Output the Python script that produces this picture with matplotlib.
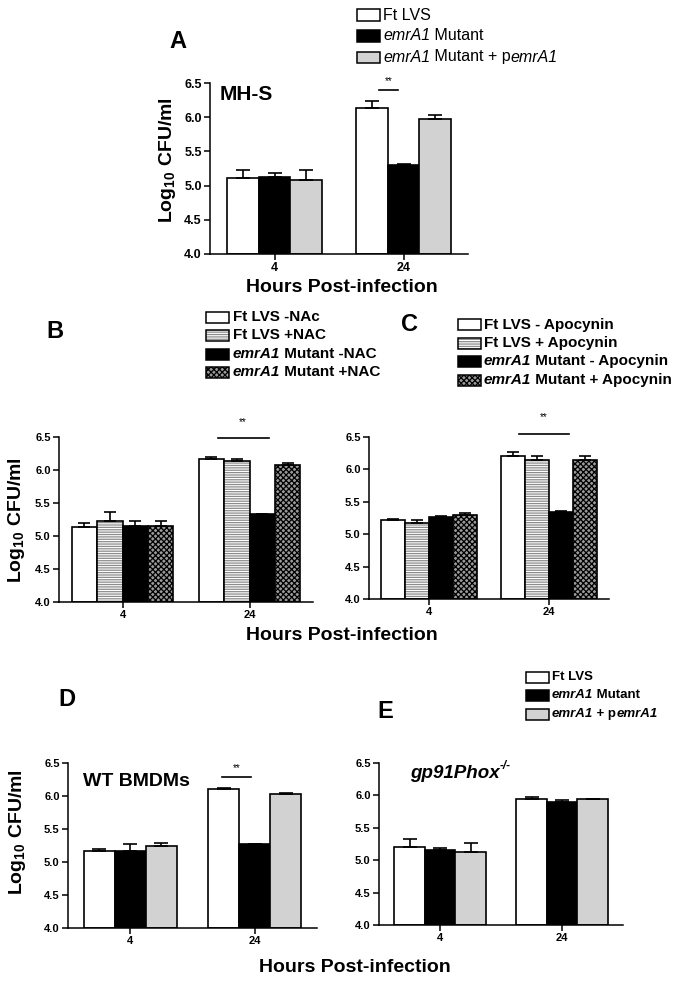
import matplotlib.pyplot as plt
import numpy as np
from matplotlib.patches import Rectangle
from matplotlib.text import Annotation

plt.rcParams["font.family"] = ["Liberation Sans", "DejaVu Sans"]
plt.rcParams["font.weight"] = "bold"
plt.rcParams["mathtext.fontset"] = "custom"
plt.rcParams["mathtext.rm"] = "Liberation Sans"
plt.rcParams["mathtext.it"] = "Liberation Sans:italic"
plt.rcParams["hatch.linewidth"] = 0.9

W, H = 686, 983

# x categories
hours = ["4", "24"]

# A: MH-S cells
a_lvs = [5.11, 6.14]
a_lvs_err = [0.12, 0.09]
a_mut = [5.12, 5.30]
a_mut_err = [0.06, 0.01]
a_comp = [5.08, 5.98]
a_comp_err = [0.15, 0.05]

# B: NAC
b_lvs = [5.14, 6.16]
b_lvs_err = [0.05, 0.03]
b_lvs_nac = [5.23, 6.14]
b_lvs_nac_err = [0.13, 0.02]
b_mut = [5.15, 5.33]
b_mut_err = [0.08, 0.01]
b_mut_nac = [5.15, 6.07]
b_mut_nac_err = [0.08, 0.03]

# C: apocynin
c_lvs = [5.22, 6.20]
c_lvs_err = [0.01, 0.07]
c_lvs_apo = [5.18, 6.15]
c_lvs_apo_err = [0.04, 0.05]
c_mut = [5.26, 5.34]
c_mut_err = [0.02, 0.02]
c_mut_apo = [5.30, 6.15]
c_mut_apo_err = [0.02, 0.05]

# D: WT BMDMs
d_lvs = [5.17, 6.11]
d_lvs_err = [0.03, 0.005]
d_mut = [5.17, 5.27]
d_mut_err = [0.11, 0.005]
d_comp = [5.25, 6.03]
d_comp_err = [0.04, 0.02]

# E: gp91Phox-/- BMDMs
e_lvs = [5.21, 5.95]
e_lvs_err = [0.11, 0.02]
e_mut = [5.15, 5.90]
e_mut_err = [0.04, 0.03]
e_comp = [5.13, 5.94]
e_comp_err = [0.13, 0.01]

# legend labels, (text, italic) pieces
a_labels = [[("Ft LVS", False)],
            [("emrA1", True), (" Mutant", False)],
            [("emrA1", True), (" Mutant + p", False), ("emrA1", True)]]
b_labels = [[("Ft LVS -NAc", False)],
            [("Ft LVS +NAC", False)],
            [("emrA1", True), (" Mutant -NAC", False)],
            [("emrA1", True), (" Mutant +NAC", False)]]
c_labels = [[("Ft LVS - Apocynin", False)],
            [("Ft LVS + Apocynin", False)],
            [("emrA1", True), (" Mutant - Apocynin", False)],
            [("emrA1", True), (" Mutant + Apocynin", False)]]
e_labels = [[("Ft LVS", False)],
            [("emrA1", True), (" Mutant", False)],
            [("emrA1", True), (" + p", False), ("emrA1", True)]]

STYLES = {
    "white": dict(fc="white", hatch=None, hc=None),
    "black": dict(fc="black", hatch=None, hc=None),
    "gray": dict(fc="#d2d2d2", hatch=None, hc=None),
    "stripe": dict(fc="white", hatch="-------", hc="#8c8c8c"),
    "check": dict(fc="#9a9a9a", hatch="xxxxxx", hc="black"),
}

fig = plt.figure(figsize=(W / 100, H / 100), dpi=100)


def fx(px):
    return px / W


def fy(py):
    return 1 - py / H


def add_axes_px(left, top, right, bottom):
    return fig.add_axes([fx(left), fy(bottom), (right - left) / W, (bottom - top) / H])


def styled_bar(ax, x, h, width, style):
    s = STYLES[style]
    if s["hatch"]:
        ax.bar(x, h, width, bottom=4, color=s["fc"], edgecolor=s["hc"],
               hatch=s["hatch"], linewidth=0, zorder=2)
        ax.bar(x, h, width, bottom=4, fill=False, edgecolor="black", linewidth=1.2, zorder=3)
    else:
        ax.bar(x, h, width, bottom=4, color=s["fc"], edgecolor="black", linewidth=1.2, zorder=2)


def panel(rect, means, errs, styles, width, cap, labelsize):
    ax = add_axes_px(*rect)
    x = np.arange(len(hours))
    n = len(means)
    for i, (m, e, st) in enumerate(zip(means, errs, styles)):
        xi = x + (i - (n - 1) / 2) * width
        styled_bar(ax, xi, np.array(m) - 4, width, st)
        ax.errorbar(xi, m, yerr=[np.zeros(len(e)), e], fmt="none", ecolor="black",
                    elinewidth=1.2, capsize=cap, capthick=1.2, zorder=4)
    ax.set_xlim(-0.5, 1.5)
    ax.set_ylim(4, 6.5)
    ax.set_yticks(np.arange(4, 6.51, 0.5))
    ax.yaxis.set_major_formatter("{x:.1f}")
    ax.set_xticks(x, hours)
    ax.spines[["top", "right"]].set_visible(False)
    ax.spines[["left", "bottom"]].set_linewidth(1.1)
    ax.tick_params(length=4, width=1.1, labelsize=labelsize, pad=2)
    return ax


def sig(ax, x0, x1, y, ty):
    ax.plot([x0, x1], [y, y], color="black", lw=1.2, clip_on=False)
    ax.text((x0 + x1) / 2, ty, "**", ha="center", va="center", fontsize=7,
            weight="normal", clip_on=False)


def rich_text(x, y, parts, size, weight, italic_all=False):
    first, it = parts[0]
    prev = fig.text(x, y, first, fontsize=size, weight=weight, ha="left", va="center",
                    style="italic" if (it or italic_all) else "normal")
    for s, it in parts[1:]:
        a = Annotation(s, xy=(1, 0), xycoords=prev, ha="left", va="bottom", fontsize=size,
                       weight=weight, style="italic" if (it or italic_all) else "normal")
        fig.add_artist(a)
        prev = a
    return prev


def swatch(left, py, style):
    s = STYLES[style]
    rect = (fx(left), fy(py) - 5.5 / H)
    w, h = 23 / W, 11 / H
    if s["hatch"]:
        fig.add_artist(Rectangle(rect, w, h, transform=fig.transFigure, facecolor=s["fc"],
                                 edgecolor=s["hc"], hatch=s["hatch"], linewidth=0))
        fig.add_artist(Rectangle(rect, w, h, transform=fig.transFigure, fill=False,
                                 edgecolor="black", linewidth=1.1))
    else:
        fig.add_artist(Rectangle(rect, w, h, transform=fig.transFigure, facecolor=s["fc"],
                                 edgecolor="black", linewidth=1.1))


def legend(box_left, text_left, rows, labels, styles, size, weight):
    for py, parts, st in zip(rows, labels, styles):
        swatch(box_left, py, st)
        rich_text(fx(text_left), fy(py), parts, size, weight)


ylab = "Log$_{10}$ CFU/ml"

# ---- A ----
ax_a = panel((210, 83, 468, 254), [a_lvs, a_mut, a_comp],
             [a_lvs_err, a_mut_err, a_comp_err], ["white", "black", "gray"], 0.246, 5, 9)
sig(ax_a, 0.81, 0.96, 6.40, 6.53)
fig.text(fx(178), fy(42), "A", fontsize=17, ha="center", va="center")
fig.text(fx(220), fy(95), "MH-S", fontsize=15, ha="left", va="center")
fig.text(fx(167), fy(160), ylab, fontsize=14, rotation=90, ha="center", va="center")
fig.text(fx(342), fy(288), "Hours Post-infection", fontsize=14, ha="center", va="center")
legend(357, 383, [15, 36, 57], a_labels, ["white", "black", "gray"], 11.5, "normal")

# ---- B ----
ax_b = panel((59, 437, 313, 602), [b_lvs, b_lvs_nac, b_mut, b_mut_nac],
             [b_lvs_err, b_lvs_nac_err, b_mut_err, b_mut_nac_err],
             ["white", "stripe", "black", "check"], 0.2, 4, 8)
sig(ax_b, 0.75, 1.15, 6.49, 6.73)
fig.text(fx(55), fy(332), "B", fontsize=17, ha="center", va="center")
legend(206, 233, [317, 335, 354, 372], b_labels, ["white", "stripe", "black", "check"], 11, "bold")

# ---- C ----
ax_c = panel((369, 437, 609, 599), [c_lvs, c_lvs_apo, c_mut, c_mut_apo],
             [c_lvs_err, c_lvs_apo_err, c_mut_err, c_mut_apo_err],
             ["white", "stripe", "black", "check"], 0.2, 4, 8)
sig(ax_c, 0.75, 1.165, 6.55, 6.81)
fig.text(fx(410), fy(325), "C", fontsize=17, ha="center", va="center")
legend(458, 484, [325, 343, 361, 380], c_labels, ["white", "stripe", "black", "check"], 11, "bold")

fig.text(fx(17), fy(520), ylab, fontsize=14, rotation=90, ha="center", va="center")
fig.text(fx(342), fy(635), "Hours Post-infection", fontsize=14, ha="center", va="center")

# ---- D ----
ax_d = panel((68, 763, 317, 928), [d_lvs, d_mut, d_comp],
             [d_lvs_err, d_mut_err, d_comp_err], ["white", "black", "gray"], 0.25, 5, 8)
sig(ax_d, 0.74, 0.97, 6.29, 6.42)
fig.text(fx(67), fy(699), "D", fontsize=17, ha="center", va="center")
fig.text(fx(83), fy(781), "WT BMDMs", fontsize=14, ha="left", va="center")

# ---- E ----
ax_e = panel((379, 763, 623, 925), [e_lvs, e_mut, e_comp],
             [e_lvs_err, e_mut_err, e_comp_err], ["white", "black", "gray"], 0.25, 5, 8)
fig.text(fx(385), fy(712), "E", fontsize=17, ha="center", va="center")
gp = fig.text(fx(410), fy(773), "gp91Phox", fontsize=13.5, style="italic", ha="left", va="center")
fig.add_artist(Annotation("-/-", xy=(1, 0.55), xycoords=gp, ha="left", va="bottom",
                          fontsize=8.5, style="italic"))
legend(526, 552, [677, 695, 714], e_labels, ["white", "black", "gray"], 9.5, "bold")

fig.text(fx(18), fy(832), ylab, fontsize=14, rotation=90, ha="center", va="center")
fig.text(fx(355), fy(967), "Hours Post-infection", fontsize=14, ha="center", va="center")

fig.savefig("out.png", dpi=100)
